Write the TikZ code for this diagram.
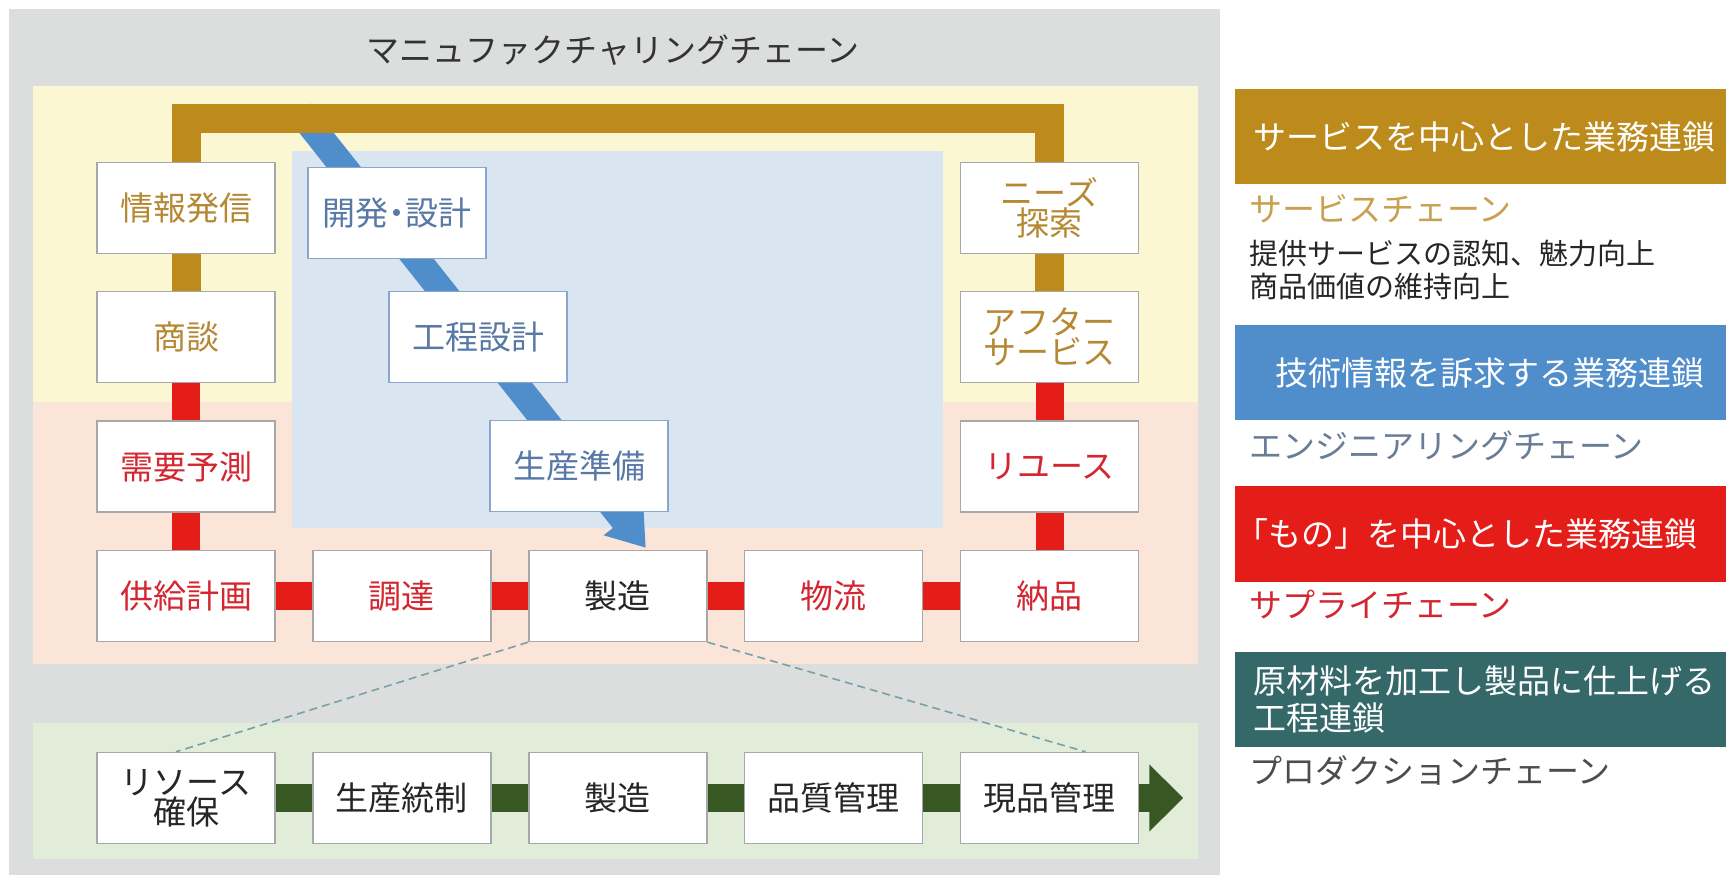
\documentclass[tikz,border=0pt]{standalone}
\usepackage{fontspec}
\newfontfamily\jp{Noto Sans CJK JP}
\newfontfamily\jpp{Noto Sans CJK JP}[RawFeature=+palt]
\usetikzlibrary{arrows.meta,calc,positioning}
\tikzset{every picture/.style={
  >={Triangle}                  % Filled arrow heads.
  }
}
\pgfdeclarelayer{back}
\pgfdeclarelayer{links}
\pgfsetlayers{back,links,main}

\definecolor{bggray}{RGB}{220,221,221}
\definecolor{svbg}{RGB}{250,247,210}
\definecolor{supbg}{RGB}{251,228,216}
\definecolor{engbg}{RGB}{218,229,242}
\definecolor{prbg}{RGB}{226,237,217}
\definecolor{svgold}{RGB}{188,139,27}
\definecolor{svtext}{RGB}{181,136,52}
\definecolor{svlight}{RGB}{200,160,80}
\definecolor{supred}{RGB}{228,29,24}
\definecolor{suptext}{RGB}{212,38,48}
\definecolor{engblue}{RGB}{79,141,203}
\definecolor{engtext}{RGB}{88,120,166}
\definecolor{engframe}{RGB}{140,165,205}
\definecolor{engname}{RGB}{105,125,150}
\definecolor{prgreen}{RGB}{55,88,35}
\definecolor{prteal}{RGB}{52,104,105}
\definecolor{boxgray}{RGB}{168,168,168}
\definecolor{zoomcol}{RGB}{120,160,168}

\begin{document}
\begin{tikzpicture}[
    x=0.5pt, y=-0.5pt,
    node distance=18.5pt and 18.25pt,
    box/.style={
      draw=boxgray,
      fill=white,
      line width=0.7pt,
      minimum width=89pt,
      minimum height=45.5pt,
      inner sep=0pt,
      align=center,
      font=\jp\fontsize{16.5}{15}\selectfont
    },
    svbox/.style={box,text=svtext},
    supbox/.style={box,text=suptext},
    engbox/.style={box,draw=engframe,text=engtext},
    prbox/.style={box,text=black!85},
    svlink/.style={line width=14.5pt,svgold,line join=miter},
    suplink/.style={line width=14pt,supred},
    prlink/.style={line width=14pt,prgreen},
    englink/.style={
      line width=13.5pt,
      engblue,
      -{Triangle[width=24pt,length=18pt]}
    },
    zoomline/.style={
      zoomcol,
      line width=0.8pt,
      dash pattern=on 4pt off 2.5pt
    },
    legbar/.style={
      anchor=west,
      minimum height=47.5pt,
      text width=236pt,
      inner xsep=9pt,
      align=left,
      text=white,
      font=\jp\fontsize{16.5}{18.5}\selectfont
    },
    legtxt/.style={
      anchor=west,
      inner sep=0pt,
      align=left,
      font=\jp\fontsize{16.5}{18}\selectfont
    }]

    % Helper macro.
    \def\lk#1#2#3{ \draw[#1] (#2) -- (#3) }

    \useasboundingbox (0,0) rectangle (1726,877);

    % Draw the shaded areas of the chains.
    \begin{pgfonlayer}{back}
      \fill[bggray] (9,9) rectangle (1220,875);
      \fill[svbg] (33,86) rectangle (1198,402);
      \fill[supbg] (33,402) rectangle (1198,664);
      \fill[engbg] (292,151) rectangle (943,528);
      \fill[prbg] (33,723) rectangle (1198,859);
    \end{pgfonlayer}

    \node[font=\jp\fontsize{16.5}{18}\selectfont,text=black!80] (title)
      at (613,50) {マニュファクチャリングチェーン};

    % Draw the supply chain row and the two columns above it.
    \node[supbox] (plan) at (186,596) {供給計画};
    \node[supbox,right=of plan] (buy) {調達};
    \node[prbox,right=of buy] (make) {製造};
    \node[supbox,right=of make] (ship) {物流};
    \node[supbox,right=of ship] (deliv) {納品};
    \node[supbox,above=of plan] (fcst) {需要予測};
    \node[svbox,above=of fcst] (talk) {商談};
    \node[svbox,above=of talk] (info) {情報発信};
    \node[supbox,above=of deliv] (reuse) {リユース};
    \node[svbox,above=of reuse] (after) {アフター\\サービス};
    \node[svbox,above=of after] (needs) {ニーズ\\探索};

    % Draw the engineering chain.
    \node[engbox] (dev) at (397,213) {開発{\jpp ・}設計};
    \node[engbox] (proc) at (478,337) {工程設計};
    \node[engbox] (prep) at (579,466) {生産準備};

    % Draw the production chain.
    \node[prbox] (res) at (186,798) {リソース\\確保};
    \node[prbox,right=of res] (ctrl) {生産統制};
    \node[prbox,right=of ctrl] (make2) {製造};
    \node[prbox,right=of make2] (qual) {品質管理};
    \node[prbox,right=of qual] (stock) {現品管理};
    \coordinate[right=22pt of stock.east] (prend);

    % Draw the links.
    \begin{pgfonlayer}{links}
      \draw[englink] (300,112) -- ([xshift=14pt,yshift=1pt]make.north);
      \draw[svlink] (info.north) -- (info.north |- 0,119)
        -- (needs.north |- 0,119) -- (needs.north);
      \lk{svlink}{info}{talk};
      \lk{svlink}{needs}{after};
      \lk{suplink}{talk}{fcst};
      \lk{suplink}{fcst}{plan};
      \lk{suplink}{plan}{buy};
      \lk{suplink}{buy}{make};
      \lk{suplink}{make}{ship};
      \lk{suplink}{ship}{deliv};
      \lk{suplink}{after}{reuse};
      \lk{suplink}{reuse}{deliv};
      \lk{prlink}{res}{ctrl};
      \lk{prlink}{ctrl}{make2};
      \lk{prlink}{make2}{qual};
      \lk{prlink}{qual}{stock};
      \lk{prlink,-{Triangle[width=32.5pt,length=17pt]}}{stock}{prend};
    \end{pgfonlayer}

    % Draw the expansion lines.
    \draw[zoomline] (make.south west) -- ([xshift=-5pt]res.north);
    \draw[zoomline] (make.south east) -- ([xshift=18pt]stock.north);

    % Draw the legend.
    \node[legbar,fill=svgold] (svbar) at (1235,137)
      {サービスを中心とした業務連鎖};
    \node[legtxt,text=svlight] (svname) at (1249,209) {サービスチェーン};
    \node[legtxt,text=black!85,font=\jp\fontsize{14.5}{16.5}\selectfont]
      (svdesc) at (1249,270) {提供サービスの認知、魅力向上\\商品価値の維持向上};
    \node[legbar,fill=engblue] (engbar) at (1235,373)
      {\hspace*{11pt}技術情報を訴求する業務連鎖};
    \node[legtxt,text=engname] (engname) at (1249,446)
      {エンジニアリングチェーン};
    \node[legbar,fill=supred] (supbar) at (1235,534)
      {\hspace*{-9pt}「もの」を中心とした業務連鎖};
    \node[legtxt,text=suptext] (supname) at (1249,605) {サプライチェーン};
    \node[legbar,fill=prteal] (prbar) at (1235,699)
      {原材料を加工し製品に仕上げる\\工程連鎖};
    \node[legtxt,text=black!70] (prname) at (1249,771)
      {プロダクションチェーン};
  \end{tikzpicture}
\end{document}
